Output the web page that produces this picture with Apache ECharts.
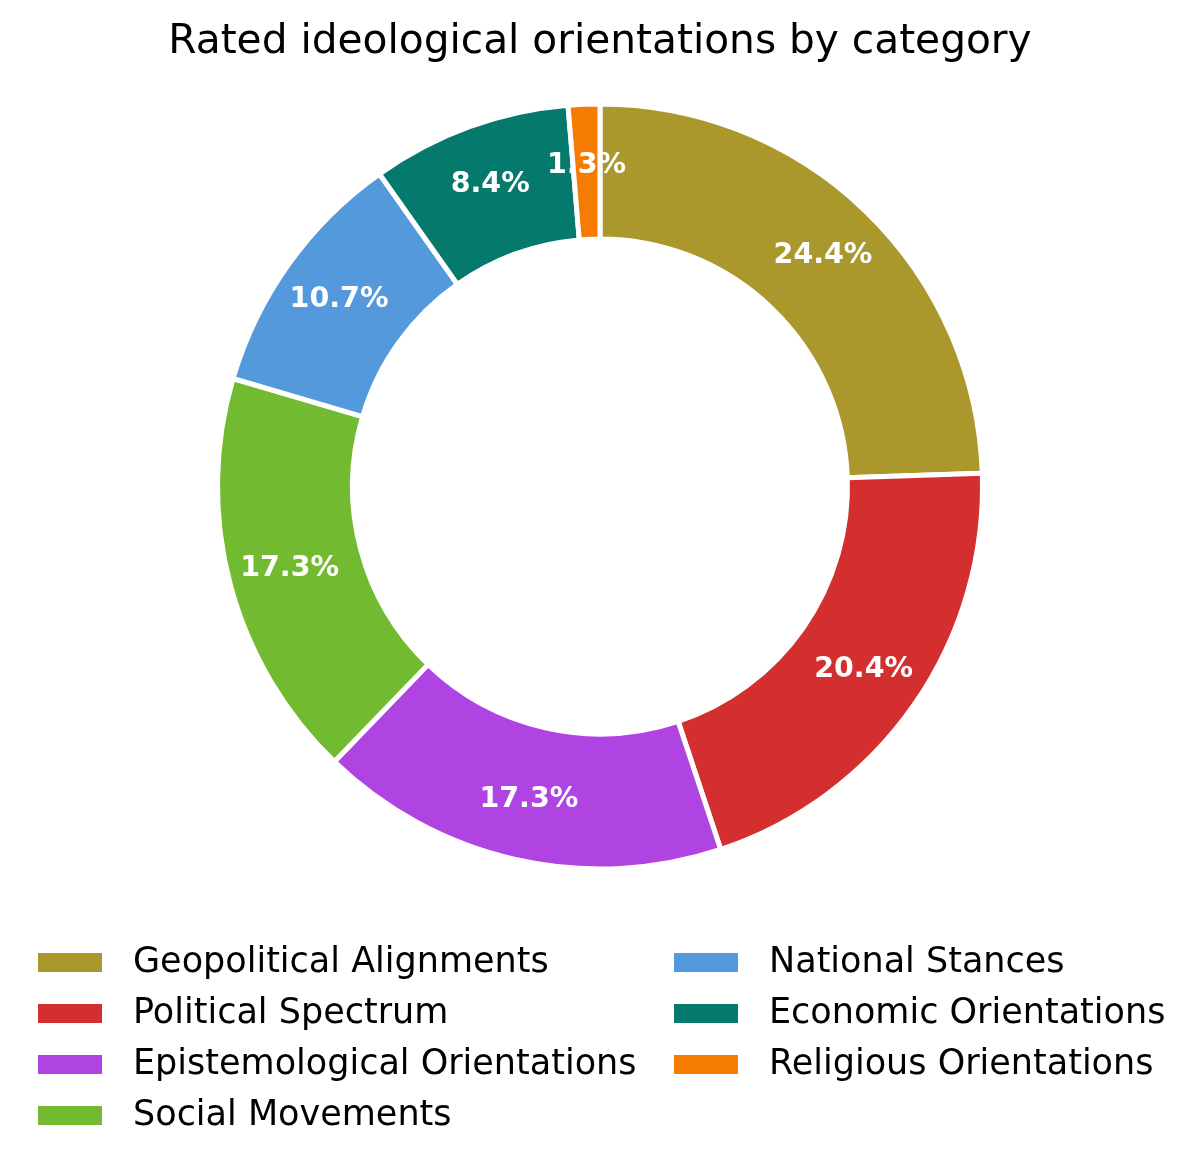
<!DOCTYPE html>
<html>
<head>
<meta charset="utf-8">
<script src="https://cdn.jsdelivr.net/npm/echarts@6/dist/echarts.min.js"></script>
<style>
html,body{margin:0;padding:0;background:#fff;}
#chart{width:1200px;height:1166px;}
</style>
</head>
<body>
<div id="chart"></div>
<script>
const categories = [
  'Geopolitical Alignments',
  'Political Spectrum',
  'Epistemological Orientations',
  'Social Movements',
  'National Stances',
  'Economic Orientations',
  'Religious Orientations'
];
const counts = [55, 46, 39, 39, 24, 19, 3];
const colors = ['#ab982d', '#d32f2f', '#b044e2', '#72bb30', '#5599dd', '#06796d', '#f57c00'];
const titleText = 'Rated ideological orientations by category';

const total = counts.reduce((a, b) => a + b, 0);
const data = categories.map((name, i) => ({ name: name, value: counts[i] }));

const chart = echarts.init(document.getElementById('chart'), null, { renderer: 'canvas' });
const FONT = 'DejaVu Sans';
const legendCommon = {
  orient: 'vertical',
  padding: 0,
  itemWidth: 64,
  itemHeight: 19,
  itemGap: 16,
  icon: 'rect',
  selectedMode: false,
  itemStyle: { borderWidth: 0 },
  textStyle: { fontFamily: FONT, fontSize: 35, color: '#000', lineHeight: 35, padding: [0, 0, 0, 26] }
};
chart.setOption({
  animation: false,
  color: colors,
  title: {
    text: titleText,
    left: 'center',
    top: 17,
    textStyle: { fontFamily: FONT, fontSize: 40.7, fontWeight: 'normal', color: '#000' }
  },
  legend: [
    Object.assign({}, legendCommon, { left: 38, top: 945, data: categories.slice(0, 4) }),
    Object.assign({}, legendCommon, { left: 674, top: 945, data: categories.slice(4) })
  ],
  series: [
    {
      type: 'pie',
      center: [600, 486.5],
      radius: [247.5, 382.5],
      startAngle: 90,
      clockwise: true,
      silent: true,
      label: { show: false },
      labelLine: { show: false },
      itemStyle: { borderColor: '#fff', borderWidth: 5 },
      data: data
    },
    {
      type: 'pie',
      center: [600, 486.5],
      radius: [253, 383],
      startAngle: 90,
      clockwise: true,
      silent: true,
      legendHoverLink: false,
      itemStyle: { color: 'rgba(0,0,0,0)', borderWidth: 0 },
      label: {
        show: true,
        position: 'inside',
        fontFamily: FONT,
        fontSize: 28.5,
        fontWeight: 'bold',
        color: '#fff',
        formatter: p => (p.value / total * 100).toFixed(1) + '%'
      },
      labelLine: { show: false },
      data: data
    }
  ]
});
</script>
</body>
</html>
